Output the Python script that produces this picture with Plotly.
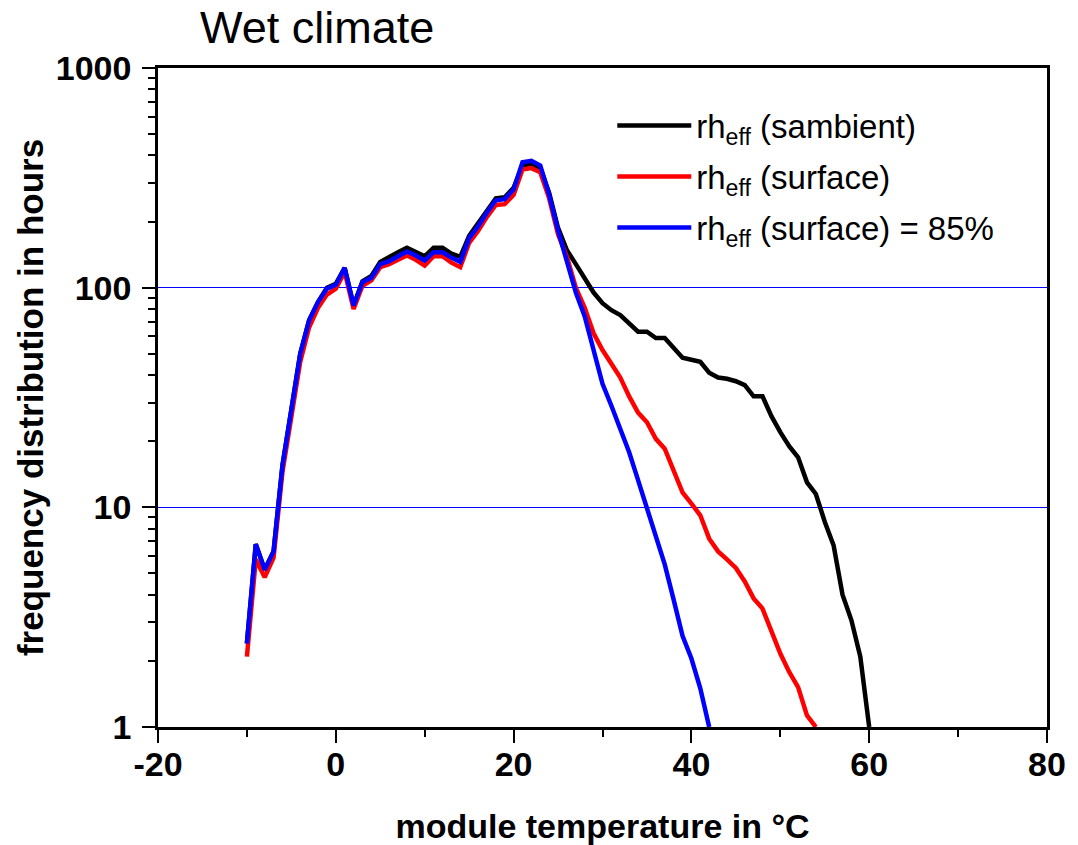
import plotly.graph_objects as go

# module temperature in degC, one value per degree
temp_ambient = list(range(-10, 61))
temp_surface = list(range(-10, 55))
temp_85 = list(range(-10, 43))

# frequency distribution in hours
hours_ambient = [2.4, 6.8, 5.2, 6.3, 15.5, 27, 50, 71, 86, 100,
                 104, 123, 83, 107, 113, 131, 137, 145, 152, 146,
                 139, 152, 152, 143, 138, 172, 195, 225, 255, 258,
                 285, 360, 366, 350, 270, 187, 148, 128, 110, 95,
                 85, 79, 75, 69, 63, 63, 59, 59, 53, 48,
                 47, 46, 41, 39, 38.5, 37.5, 36, 32, 32, 26,
                 22, 19, 16.9, 13, 11.5, 8.6, 6.7, 4.0, 3.06, 2.09,
                 1.0]
hours_surface = [2.09, 5.8, 4.8, 5.9, 14.5, 25, 46, 66, 81, 93,
                 99, 118, 80, 102, 108, 124, 128, 134, 140, 134,
                 126, 139, 139, 130, 124, 160, 181, 210, 238, 240,
                 265, 345, 350, 335, 255, 175, 138, 100, 81, 62,
                 52, 45, 39, 32, 27, 24.4, 20.5, 18.5, 14.7, 11.7,
                 10.4, 9.2, 7.2, 6.3, 5.8, 5.3, 4.6, 3.85, 3.46, 2.7,
                 2.16, 1.78, 1.52, 1.13, 1.0]
hours_85 = [2.4, 6.8, 5.2, 6.3, 15.5, 27, 50, 71, 86, 99,
            103, 123, 83, 106, 111, 128, 132, 139, 146, 140,
            133, 145, 145, 137, 131, 168, 190, 220, 250, 253,
            280, 372, 378, 360, 265, 182, 134, 95, 74, 52,
            36.5, 29, 23, 17.8, 13.3, 10, 7.3, 5.5, 3.8, 2.6,
            2.05, 1.5, 1.0]

x_ticks = [-20, 0, 20, 40, 60, 80]
x_ticktext = ['-20', '0', '20', '40', '60', '80']
y_ticks = [1, 10, 100, 1000]
y_ticktext = ['1', '10', '100', '1000']
y_minor = [m * d for d in (1, 10, 100) for m in range(2, 10)]

fig = go.Figure()
fig.add_trace(go.Scatter(x=temp_ambient, y=hours_ambient, mode='lines',
                         name='rh<sub>eff</sub> (sambient)', legendgroup='a',
                         line=dict(color='black', width=4.5)))
fig.add_trace(go.Scatter(x=temp_surface, y=hours_surface, mode='lines',
                         name='rh<sub>eff</sub> (surface)', legendgroup='b',
                         line=dict(color='red', width=4.5)))
fig.add_trace(go.Scatter(x=temp_85, y=hours_85, mode='lines',
                         name='rh<sub>eff</sub> (surface) = 85%', legendgroup='c',
                         line=dict(color='blue', width=4.5)))

fig.update_layout(
    width=1078, height=845,
    margin=dict(l=158, r=31, t=68, b=118, autoexpand=False),
    plot_bgcolor='white', paper_bgcolor='white',
    font=dict(family='Arial, Liberation Sans, sans-serif', color='black'),
    legend=dict(x=0.511, y=0.955, xanchor='left', yanchor='top',
                font=dict(size=33), itemwidth=74, tracegroupgap=5,
                bgcolor='rgba(0,0,0,0)'),
    annotations=[dict(text='Wet climate', xref='paper', yref='paper',
                      x=0.179, y=1.061, xanchor='center', yanchor='middle',
                      showarrow=False, font=dict(size=45))]
)

fig.update_xaxes(
    range=[-20, 80], tickmode='array', tickvals=x_ticks, ticktext=x_ticktext,
    ticks='outside', ticklen=13, tickwidth=2, tickcolor='black',
    ticklabelstandoff=-8,
    showline=True, linewidth=2.5, linecolor='black', mirror=True,
    showgrid=False, zeroline=False,
    tickfont=dict(size=34, weight='bold'),
    minor=dict(dtick=10, tick0=-20, ticks='outside', ticklen=7,
               tickwidth=2, tickcolor='black', showgrid=False),
    title=dict(text='module temperature in °C', standoff=36,
               font=dict(size=34, weight='bold'))
)
fig.update_yaxes(
    type='log', range=[0, 3], tickmode='array', tickvals=y_ticks,
    ticktext=y_ticktext,
    ticks='outside', ticklen=13, tickwidth=2, tickcolor='black',
    ticklabelstandoff=4,
    showline=True, linewidth=2.5, linecolor='black', mirror=True,
    showgrid=True, gridcolor='rgb(0,0,255)', gridwidth=1, zeroline=False,
    tickfont=dict(size=34, weight='bold'),
    minor=dict(tickmode='array', tickvals=y_minor, ticks='outside',
               ticklen=7, tickwidth=2, tickcolor='black', showgrid=False),
    title=dict(text='frequency distribution in hours', standoff=2,
               font=dict(size=35, weight='bold'))
)

# page body has a default margin; remove it so the figure sits at the corner
fig.write_html('out.html', config={'displayModeBar': False},
               post_script="document.body.style.margin='0px';")
